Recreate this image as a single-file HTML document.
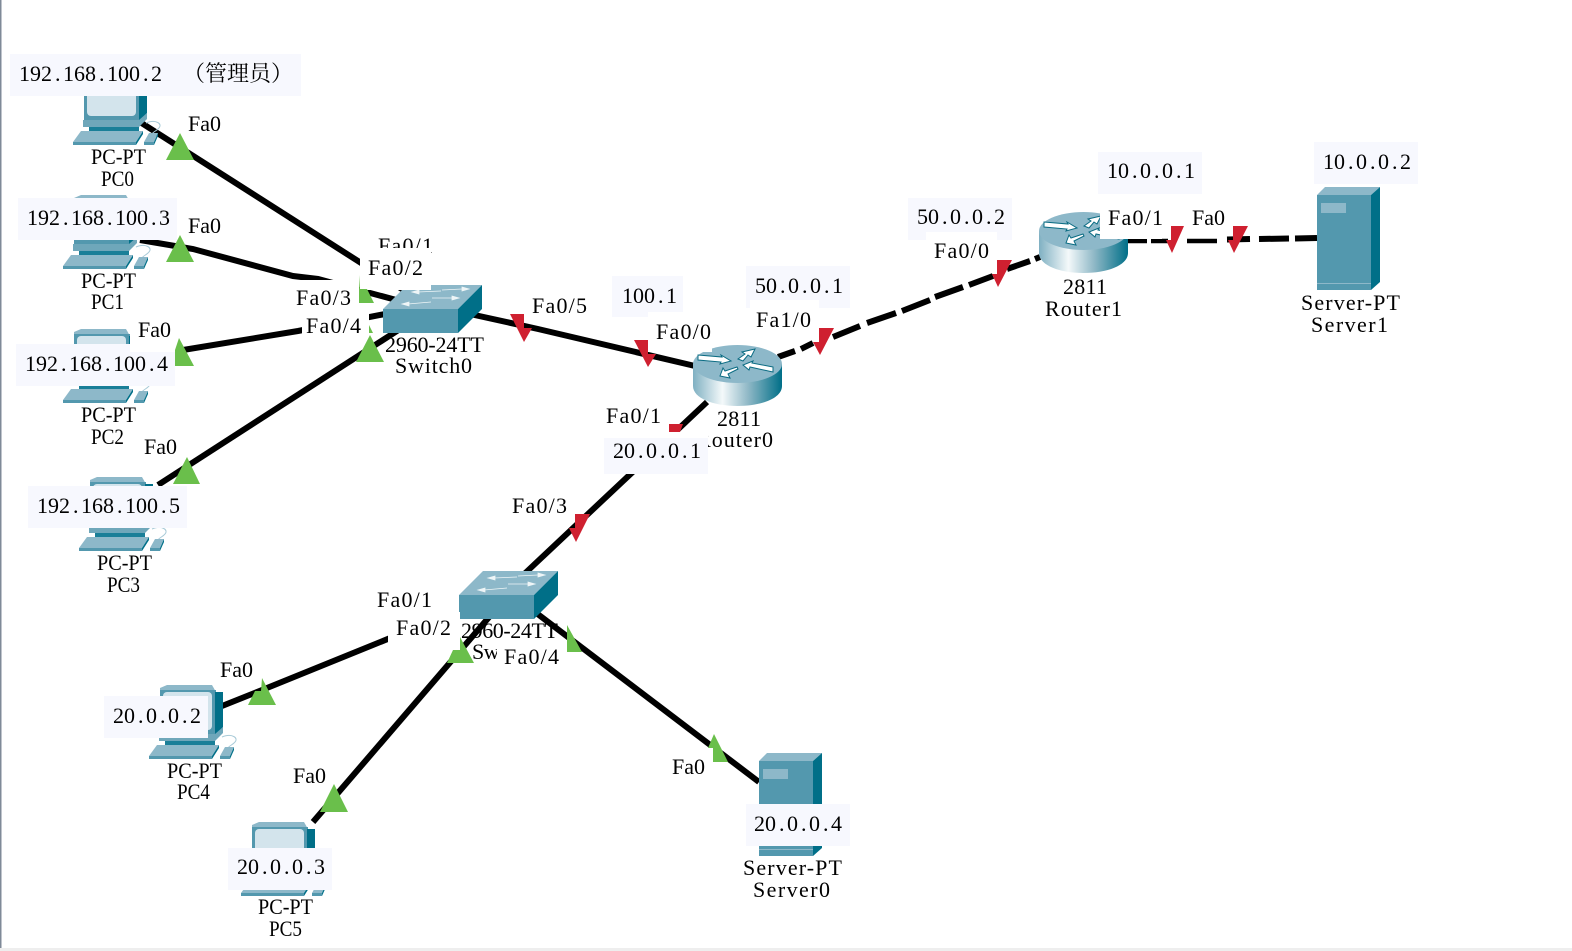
<!DOCTYPE html>
<html><head><meta charset="utf-8"><title>Network topology</title>
<style>
html,body{margin:0;padding:0;background:#fff;width:1572px;height:951px;overflow:hidden}
svg{display:block}
text{font-family:"Liberation Serif","Noto Serif CJK SC",serif;font-size:22px;fill:#000}
.b{fill:#f7f8fe}.w{fill:#fff}.g{fill:#6abf4b}.r{fill:#cf2030}
.l{fill:none;stroke:#000;stroke-width:6}
</style></head><body>
<svg width="1572" height="951" viewBox="0 0 1572 951" xmlns="http://www.w3.org/2000/svg">
<defs>
<linearGradient id="rg" x1="0" x2="1" y1="0" y2="0">
<stop offset="0" stop-color="#7fb0c2"/><stop offset=".33" stop-color="#f4f9fa"/><stop offset=".62" stop-color="#8fb8c6"/><stop offset="1" stop-color="#006f88"/>
</linearGradient>
<g id="pc">
<polygon points="160,688 167,685 212,685 216,692 160,692" fill="#8db8c9"/>
<rect x="160" y="690" width="56" height="48" fill="#5398ae"/>
<polygon points="215,692 223,692 223,727 215,736" fill="#006f88"/>
<rect x="163" y="692" width="49" height="38" rx="4" fill="#d3e4ec"/>
<polygon points="159,734 215,734 223,727 223,733 215,741 159,741" fill="#6fa7ba"/>
<rect x="165" y="741" width="50" height="5" fill="#1a7f98"/>
<path d="M222 737 C232 733 240 738 234 743 C232 745 229 746 228 748" fill="none" stroke="#a9cbd8" stroke-width="1"/>
<polygon points="149,756 157,745 219,745 212,756" fill="#8db8c9"/>
<polygon points="149,756 212,756 212,759 149,759" fill="#5398ae"/>
<polygon points="212,756 219,745 219,748 212,759" fill="#006f88"/>
<polygon points="220,756 225,747 234,747 230,756" fill="#8db8c9"/>
<polygon points="220,756 230,756 230,759 220,759" fill="#5398ae"/>
<polygon points="230,756 234,747 234,750 230,759" fill="#006f88"/>
</g>
<g id="sw">
<polygon points="383,309 407,285 482,285 458,309" fill="#8db8c9"/>
<rect x="383" y="309" width="75" height="24" fill="#5398ae"/>
<polygon points="458,309 482,285 482,309 458,333" fill="#006f88"/>
<g stroke="#eef5f7" stroke-width="0.800" fill="#eef5f7">
<line x1="418" y1="292" x2="441" y2="291"/><polygon points="412,292 419,290 419,294"/>
<line x1="442" y1="290" x2="462" y2="289"/><polygon points="469,289 462,287 462,291"/>
<line x1="408" y1="304" x2="431" y2="302"/><polygon points="402,304 409,302 409,306"/>
<line x1="432" y1="298" x2="452" y2="298"/><polygon points="459,298 452,296 452,300"/>
</g>
</g>
<g id="rt">
<path d="M693 364 V386 C693 398 713 406 737.5 406 C762 406 782 398 782 386 V364 Z" fill="url(#rg)"/>
<ellipse cx="737.5" cy="364" rx="44.5" ry="19" fill="#8db8c9"/>
<g fill="#fff" stroke="#0b6c83" stroke-width="1">
<polygon points="698,355 722,357 721,355 731,361 720,364 721,362 698,360"/>
<polygon points="755,349 742,352 745,354 738,359 743,361 748,355 751,357"/>
<polygon points="773,367 752,363 753,361 743,365 749,370 750,367 773,372"/>
<polygon points="737,367 725,371 723,368 720,376 730,378 728,374 738,369"/>
</g>
</g>
<g id="srv">
<polygon points="759,761 767,753 822,753 813,761" fill="#8db8c9"/>
<rect x="759" y="761" width="54" height="95" fill="#5398ae"/>
<polygon points="813,761 822,753 822,848 813,856" fill="#006f88"/>
<rect x="763" y="769" width="25" height="10" fill="#8db8c9"/>
<rect x="759" y="849" width="54" height="1" fill="#8db8c9"/>
</g>
</defs>

<rect x="0" y="0" width="1.500" height="951" fill="#7f8a98"/>
<rect x="0" y="948" width="1572" height="3" fill="#eeeeee"/>

<!-- links -->
<path class="l" d="M140 122 L405 291"/>
<path class="l" d="M140 240 L193 249 L293 276 L318 279 L400 301"/>
<path class="l" d="M183 350 L298 331 L390 313"/>
<path class="l" d="M158 485 L400 329"/>
<path class="l" d="M470 314 L538 329 L695 366"/>
<path class="l" d="M707 402 L520 578"/>
<path class="l" d="M222 706 L262 690 L400 634"/>
<path class="l" d="M313 822 L490 616"/>
<path class="l" d="M535 612 L759 782"/>
<path class="l" d="M778 357 L795 351 M801 349 L813 343 M833 337 L860 326 M867 323 L896 313 M902 311 L930 300 M935 297 L963 287 M969 285 L993 276 M1007 269 L1030 261 M1035 259 L1040 257"/>
<path fill="none" stroke="#000" stroke-width="4.500" d="M1128 241 L1147 241 M1151 241 L1168 241 M1187 241 L1217 241"/>
<path fill="none" stroke="#000" stroke-width="6" d="M1227 239.500 L1250 239 M1259 239 L1289 238.500 M1295 238.500 L1317 238"/>

<!-- devices -->
<use href="#pc" transform="translate(-76,-614)"/>
<use href="#pc" transform="translate(-86,-490)"/>
<use href="#pc" transform="translate(-86,-356)"/>
<use href="#pc" transform="translate(-70,-208)"/>
<use href="#pc"/>
<use href="#pc" transform="translate(92,137)"/>
<use href="#srv"/>
<use href="#srv" transform="translate(558,-566)"/>
<use href="#rt"/>
<use href="#rt" transform="translate(346,-133)"/>
<use href="#sw"/>
<use href="#sw" transform="translate(76,286)"/>

<!-- text under boxes -->
<text x="696" y="447" textLength="77">Router0</text>
<text x="378" y="253" textLength="55">Fa0/1</text>
<text x="461" y="638" textLength="97">2960-24TT</text>
<text x="472" y="659" textLength="33">Sw:</text>

<!-- address boxes -->
<rect class="b" x="10" y="54" width="291" height="42"/>
<rect class="b" x="18" y="198" width="159" height="42"/>
<rect class="b" x="16" y="344" width="159" height="42"/>
<rect class="b" x="28" y="486" width="159" height="42"/>
<rect class="b" x="612" y="276" width="71" height="41"/>
<rect class="b" x="746" y="266" width="104" height="42"/>
<rect class="b" x="604" y="438" width="104" height="36"/>
<rect class="b" x="908" y="198" width="104" height="42"/>
<rect class="b" x="1098" y="152" width="104" height="42"/>
<rect class="b" x="1314" y="142" width="104" height="42"/>
<rect class="b" x="104" y="696" width="104" height="42"/>
<rect class="b" x="228" y="848" width="104" height="42"/>
<rect class="b" x="746" y="804" width="104" height="42"/>

<!-- white label masks -->
<rect class="w" x="360" y="248" width="71" height="42"/>
<rect class="w" x="295" y="280" width="64" height="31"/>
<rect class="w" x="302" y="311" width="67" height="28"/>
<rect class="w" x="130" y="320" width="47" height="32"/>
<rect class="w" x="648" y="312" width="64" height="40"/>
<rect class="w" x="750" y="300" width="69" height="35"/>
<rect class="w" x="926" y="232" width="71" height="36"/>
<rect class="w" x="1100" y="205" width="62" height="34"/>
<rect class="w" x="604" y="432" width="104" height="6"/>
<rect class="w" x="372" y="586" width="68" height="26"/>
<rect class="w" x="388" y="612" width="72" height="38"/>
<rect class="w" x="497" y="642" width="70" height="30"/>
<rect class="w" x="668" y="748" width="45" height="34"/>

<!-- green port markers -->
<polygon class="g" points="180,133 194,160 166,160"/>
<polygon class="g" points="180,235 194,262 166,262"/>
<polygon class="g" points="179,338 194,366 175,366 175,350"/>
<polygon class="g" points="187,457 200,484 173,484"/>
<polygon class="g" points="359,275 360,289 367,289 374,303 359,303"/>
<polygon class="g" points="369,325 373,333 369,333"/>
<polygon class="g" points="370,335 384,362 356,362"/>
<polygon class="g" points="460,637 474,663 447,663 453,650 460,650"/>
<polygon class="g" points="567,625 582,652 567,652"/>
<polygon class="g" points="262,678 276,705 248,705 255,691 261,691"/>
<polygon class="g" points="334,784 348,812 320,812"/>
<polygon class="g" points="714,734 728,762 713,762 713,748 708,748"/>

<!-- red port markers -->
<polygon class="r" points="510,314 524,314 524,328 532,328 524,342"/>
<polygon class="r" points="634,340 648,340 648,354 656,354 648,367"/>
<polygon class="r" points="669,424 683,424 680,432 669,432"/>
<polygon class="r" points="575,514 590,514 576,542 569,528 575,528"/>
<polygon class="r" points="819,328 834,328 820,355 813,342 819,342"/>
<polygon class="r" points="997,260 1012,260 998,287 992,274 997,274"/>
<polygon class="r" points="1171,226 1184,226 1172,253 1166,240 1171,240"/>
<polygon class="r" points="1233,226 1248,226 1234,253 1228,240 1233,240"/>

<!-- addresses -->
<text x="19 30 41 55 63 74 85 99 107 118 129 143 151" y="81">192.168.100.2</text>
<text x="183" y="81" textLength="110">（管理员）</text>
<text x="27 38 49 63 71 82 93 107 115 126 137 151 159" y="225">192.168.100.3</text>
<text x="25 36 47 61 69 80 91 105 113 124 135 149 157" y="371">192.168.100.4</text>
<text x="37 48 59 73 81 92 103 117 125 136 147 161 169" y="513">192.168.100.5</text>
<text x="622 633 644 658 666" y="303">100.1</text>
<text x="755 766 780 788 802 810 824 832" y="293">50.0.0.1</text>
<text x="613 624 638 646 660 668 682 690" y="458">20.0.0.1</text>
<text x="917 928 942 950 964 972 986 994" y="224">50.0.0.2</text>
<text x="1107 1118 1132 1140 1154 1162 1176 1184" y="178">10.0.0.1</text>
<text x="1323 1334 1348 1356 1370 1378 1392 1400" y="169">10.0.0.2</text>
<text x="113 124 138 146 160 168 182 190" y="723">20.0.0.2</text>
<text x="237 248 262 270 284 292 306 314" y="874">20.0.0.3</text>
<text x="754 765 779 787 801 809 823 831" y="831">20.0.0.4</text>

<!-- device names -->
<text x="91" y="164" textLength="55" lengthAdjust="spacingAndGlyphs">PC-PT</text><text x="101" y="186" textLength="33" lengthAdjust="spacingAndGlyphs">PC0</text>
<text x="81" y="288" textLength="55" lengthAdjust="spacingAndGlyphs">PC-PT</text><text x="91" y="309" textLength="33" lengthAdjust="spacingAndGlyphs">PC1</text>
<text x="81" y="422" textLength="55" lengthAdjust="spacingAndGlyphs">PC-PT</text><text x="91" y="444" textLength="33" lengthAdjust="spacingAndGlyphs">PC2</text>
<text x="97" y="570" textLength="55" lengthAdjust="spacingAndGlyphs">PC-PT</text><text x="107" y="592" textLength="33" lengthAdjust="spacingAndGlyphs">PC3</text>
<text x="167" y="778" textLength="55" lengthAdjust="spacingAndGlyphs">PC-PT</text><text x="177" y="799" textLength="33" lengthAdjust="spacingAndGlyphs">PC4</text>
<text x="258" y="914" textLength="55" lengthAdjust="spacingAndGlyphs">PC-PT</text><text x="269" y="936" textLength="33" lengthAdjust="spacingAndGlyphs">PC5</text>
<text x="385" y="352" textLength="99">2960-24TT</text><text x="395" y="373" textLength="77">Switch0</text>
<text x="717" y="426" textLength="44">2811</text>
<text x="1063" y="294" textLength="44">2811</text><text x="1045" y="316" textLength="77">Router1</text>
<text x="1301" y="310" textLength="99">Server-PT</text><text x="1311" y="332" textLength="77">Server1</text>
<text x="743" y="875" textLength="99">Server-PT</text><text x="753" y="897" textLength="77">Server0</text>

<!-- port labels -->
<text x="188" y="131" textLength="33">Fa0</text>
<text x="188" y="233" textLength="33">Fa0</text>
<text x="138" y="337" textLength="33">Fa0</text>
<text x="144" y="454" textLength="33">Fa0</text>
<text x="368" y="275" textLength="55">Fa0/2</text>
<text x="296" y="305" textLength="55">Fa0/3</text>
<text x="306" y="333" textLength="55">Fa0/4</text>
<text x="532" y="313" textLength="55">Fa0/5</text>
<text x="656" y="339" textLength="55">Fa0/0</text>
<text x="756" y="327" textLength="55">Fa1/0</text>
<text x="606" y="423" textLength="55">Fa0/1</text>
<text x="512" y="513" textLength="55">Fa0/3</text>
<text x="934" y="258" textLength="55">Fa0/0</text>
<text x="1108" y="225" textLength="55">Fa0/1</text>
<text x="1192" y="225" textLength="33">Fa0</text>
<text x="377" y="607" textLength="55">Fa0/1</text>
<text x="396" y="635" textLength="55">Fa0/2</text>
<text x="504" y="664" textLength="55">Fa0/4</text>
<text x="220" y="677" textLength="33">Fa0</text>
<text x="293" y="783" textLength="33">Fa0</text>
<text x="672" y="774" textLength="33">Fa0</text>
</svg>
</body></html>
